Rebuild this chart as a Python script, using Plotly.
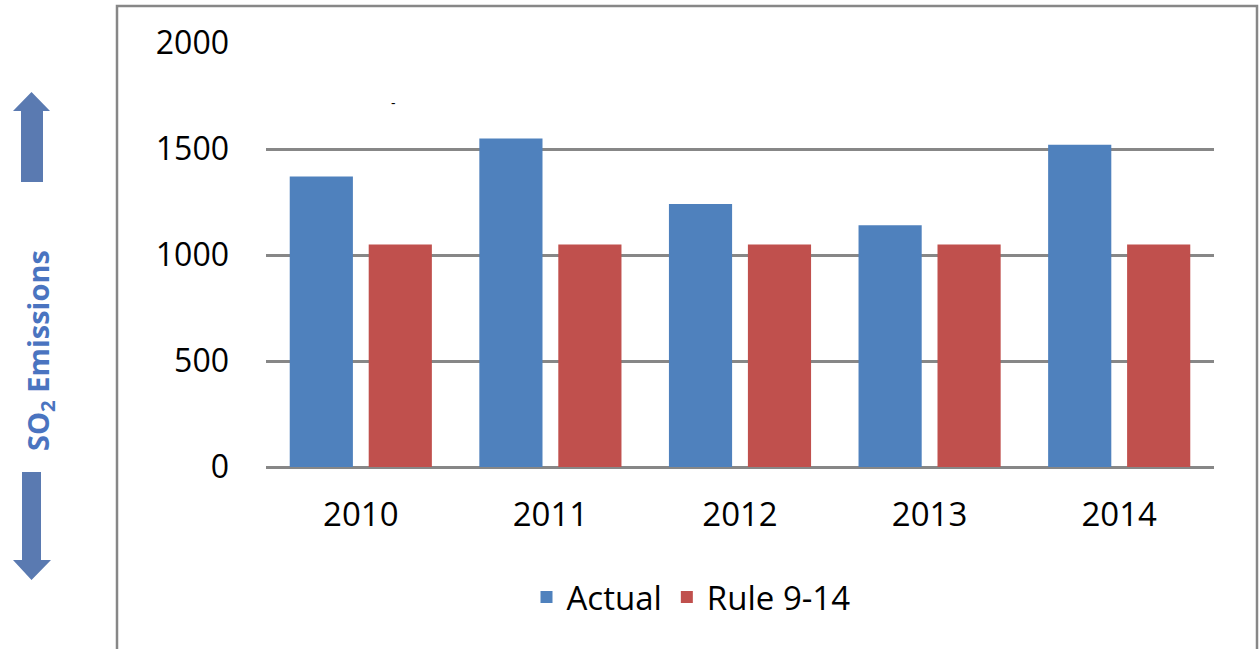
import plotly.graph_objects as go

W, H = 1259, 649

years = ["2010", "2011", "2012", "2013", "2014"]
actual = [1370, 1550, 1240, 1140, 1520]
rule_9_14 = [1050, 1050, 1050, 1050, 1050]
y_ticks = [0, 500, 1000, 1500, 2000]

BLUE = "#4F81BD"
RED = "#C0504D"
GRID = "#878787"
ARROW = "#5A7AB1"
FONT = "Open Sans"


def px(x):
    return x / W


def py(y):
    return 1 - y / H


fig = go.Figure()
fig.add_trace(go.Bar(x=years, y=actual, name="Actual", marker=dict(color=BLUE, line=dict(width=0))))
fig.add_trace(go.Bar(x=years, y=rule_9_14, name="Rule 9-14", marker=dict(color=RED, line=dict(width=0))))


def poly(points):
    return "M " + " L ".join(f"{px(x)},{py(y)}" for x, y in points) + " Z"


up_arrow = [(31.5, 92), (50, 111), (43, 111), (43, 182), (21, 182), (21, 111), (13, 111)]
down_arrow = [(22, 472), (41, 472), (41, 560), (51, 560), (31.5, 580), (13, 560), (22, 560)]

shapes = [
    dict(type="rect", xref="paper", yref="paper", x0=px(117), x1=px(1257), y0=py(6), y1=py(700),
         line=dict(color=GRID, width=2.5), fillcolor="rgba(0,0,0,0)", layer="below"),
    dict(type="path", xref="paper", yref="paper", path=poly(up_arrow), fillcolor=ARROW, line=dict(width=0)),
    dict(type="path", xref="paper", yref="paper", path=poly(down_arrow), fillcolor=ARROW, line=dict(width=0)),
]

annotations = [
    dict(text="<b>SO<sub>2</sub> Emissions</b>", xref="paper", yref="paper", x=px(39), y=py(351),
         xanchor="center", yanchor="middle", textangle=-90, showarrow=False,
         font=dict(family=FONT, size=29, color="#4A74C0")),
    dict(text="-", xref="paper", yref="paper", x=px(393), y=py(102), xanchor="center", yanchor="middle",
         showarrow=False, font=dict(family=FONT, size=14, color="black")),
]

fig.update_layout(
    width=W, height=H,
    margin=dict(l=0, r=0, t=0, b=0),
    paper_bgcolor="white", plot_bgcolor="white",
    barmode="group", bargap=0.167, bargroupgap=0.2,
    font=dict(family=FONT, size=32, color="black"),
    xaxis=dict(domain=[px(266), px(1214)], showgrid=False, showline=False, zeroline=False,
               ticks="", ticklabelstandoff=25, automargin=False,
               tickfont=dict(family=FONT, size=33, color="black")),
    yaxis=dict(domain=[py(467), py(43)], range=[0, 2000], tickvals=y_ticks,
               showgrid=True, gridcolor=GRID, gridwidth=2.5, zeroline=True, zerolinecolor=GRID,
               zerolinewidth=2.5, showline=False, ticks="", ticklabelstandoff=36, automargin=False,
               tickfont=dict(family=FONT, size=32, color="black")),
    showlegend=True,
    legend=dict(orientation="h", x=px(691), y=py(597), xanchor="center", yanchor="middle",
                font=dict(family=FONT, size=33, color="black"), itemsizing="constant",
                bgcolor="rgba(0,0,0,0)", traceorder="normal"),
    shapes=shapes,
    annotations=annotations,
)

fig.write_html("out.html")
